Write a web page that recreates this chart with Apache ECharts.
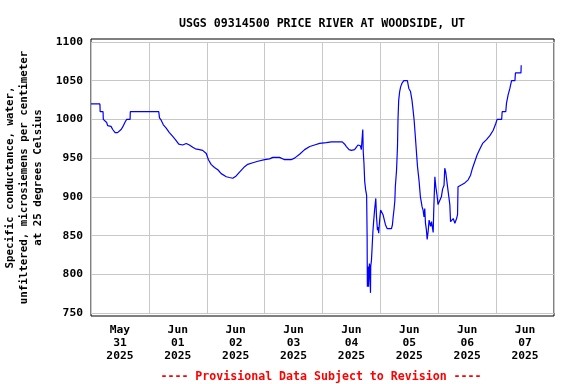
<!DOCTYPE html>
<html>
<head>
<meta charset="utf-8">
<script src="https://cdn.jsdelivr.net/npm/echarts@6/dist/echarts.min.js"></script>
<style>html,body{margin:0;padding:0;background:#fff}#c{width:576px;height:384px}</style>
</head>
<body>
<div id="c"></div>
<script>
// Hours since 2025-05-31 00:00
var hours = [0,3.7,3.8,5.0,5.1,6.5,6.9,8.3,9.0,10.0,11.0,12.5,13.1,14.2,14.8,16.2,16.3,28.1,28.4,29.1,30.0,31.1,32.5,33.9,35.0,36.4,38.0,39.5,40.8,42.2,43.3,45.0,46.3,47.8,48.7,49.8,51.2,52.6,54.0,56.1,57.4,58.8,60.2,61.6,63.7,65.0,67.1,69.2,72.0,74.0,75.4,78.2,80.3,83.0,84.4,86.5,88.6,90.7,92.7,94.8,97.6,99.7,104.2,105.2,105.9,107.0,108.0,109.3,110.0,110.7,111.4,111.7,112.1,112.5,112.7,112.9,113.2,113.5,113.9,114.3,114.5,114.6,114.9,115.1,115.3,115.45,115.6,115.9,116.0,116.3,116.6,116.9,117.2,117.6,117.9,118.1,118.4,118.8,119.0,119.3,119.7,120.1,120.7,121.1,121.5,122.1,122.8,123.6,124.6,125.0,125.3,125.7,126.0,126.2,126.7,127.1,127.3,127.6,128.0,128.4,129.0,129.7,131.2,131.8,132.5,133.1,133.5,134.0,134.5,135.0,135.4,136.0,136.6,137.3,137.7,138.1,138.4,138.7,139.1,139.4,139.8,140.2,140.5,140.8,141.2,141.5,141.9,142.1,142.6,143.0,143.5,143.9,144.6,145.3,145.8,146.4,146.7,147.1,147.7,148.1,148.8,149.1,149.8,150.2,150.9,151.6,152.0,152.2,152.9,153.9,155.0,156.4,157.4,158.2,159.2,160.1,161.3,162.4,164.0,165.4,166.8,167.9,168.4,170.3,170.5,172.0,172.3,173.0,173.7,174.4,175.8,176.0,178.3,178.4];
var conductance = [1020,1020,1010,1010,1000,996,992,991,987,983,983,987,990,997,1000,1000,1010,1010,1002,999,993,989,983,978,974,968,967,969,967,964,962,961,960,956,948,942,938,935,930,926,925,924,927,932,939,942,944,946,948,949,951,951,948,948,950,955,961,965,967,969,970,971,971,968,965,961,960,961,964,967,968,966,961,961,987,958,943,920,909,902,849,784,810,784,782,814,810,776,810,818,836,855,868,883,892,898,874,857,861,853,870,883,885,877,872,864,859,857,859,864,874,885,895,913,934,965,999,1025,1036,1042,1047,1050,1050,1040,1036,1025,1014,999,978,956,939,922,900,887,883,874,885,866,857,845,855,870,866,862,868,866,854,879,926,913,902,890,892,900,910,915,937,932,931,907,890,868,867,872,866,872,877,913,913,916,918,922,928,937,946,954,962,969,974,979,986,995,1000,1000,1010,1010,1021,1032,1040,1050,1050,1060,1060,1070];
var dayLabels = ['May\n31\n2025','Jun\n01\n2025','Jun\n02\n2025','Jun\n03\n2025','Jun\n04\n2025','Jun\n05\n2025','Jun\n06\n2025','Jun\n07\n2025'];
var yTicks = [750,800,850,900,950,1000,1050,1100];
var titleText = 'USGS 09314500 PRICE RIVER AT WOODSIDE, UT';
var yName = 'Specific conductance, water,\nunfiltered, microsiemens per centimeter\nat 25 degrees Celsius';
var footer = '---- Provisional Data Subject to Revision ----';

var FONT = '"DejaVu Sans Mono", monospace';
var data = hours.map(function (h, i) { return [h, conductance[i]]; });
var chart = echarts.init(document.getElementById('c'), null, {renderer: 'canvas'});
chart.setOption({
  animation: false,
  backgroundColor: '#fff',
  title: [
    {text: titleText, left: 317, top: 12, textAlign: 'center',
     textStyle: {fontFamily: FONT, fontWeight: 'bold', fontSize: 11.6, color: '#000', lineHeight: 14}},
    {text: footer, left: 316, top: 365, textAlign: 'center',
     textStyle: {fontFamily: FONT, fontWeight: 'bold', fontSize: 11.6, color: '#ff0000', lineHeight: 14}}
  ],
  grid: [
    {left: 91, right: 22, top: 42, bottom: 71, outerBoundsMode: 'none', containLabel: false},
    {left: 91, right: 22, top: 39, bottom: 68, outerBoundsMode: 'none', containLabel: false,
     show: true, borderColor: '#000', borderWidth: 1, backgroundColor: 'transparent'}
  ],
  xAxis: [
    {type: 'value', gridIndex: 0, min: 0, max: 192, interval: 24,
     axisLine: {show: false}, axisTick: {show: false}, axisLabel: {show: false},
     splitLine: {show: true, lineStyle: {color: '#c8c8c8', width: 1}}},
    {type: 'value', gridIndex: 0, min: 0, max: 192, interval: 12, position: 'bottom',
     axisLine: {show: false}, axisTick: {show: false}, splitLine: {show: false},
     axisLabel: {show: true, margin: 11, fontFamily: FONT, fontWeight: 'bold', fontSize: 11.3,
       color: '#000', lineHeight: 12.7, align: 'center', hideOverlap: false,
       formatter: function (v) { return (v % 24 === 12) ? dayLabels[(v - 12) / 24] : ''; }}},
    {type: 'value', gridIndex: 1, min: 0, max: 192, show: false}
  ],
  yAxis: [
    {type: 'value', gridIndex: 0, min: yTicks[0], max: yTicks[yTicks.length - 1], interval: 50,
     axisLine: {show: false}, axisTick: {show: false},
     axisLabel: {margin: 8, fontFamily: FONT, fontWeight: 'bold', fontSize: 11.3, color: '#000',
       formatter: function (v) { return String(v); }},
     splitLine: {show: true, lineStyle: {color: '#c8c8c8', width: 1}},
     name: yName, nameLocation: 'middle', nameRotate: 90, nameGap: 46,
     nameTextStyle: {fontFamily: FONT, fontWeight: 'bold', fontSize: 10.8, color: '#000', lineHeight: 14, align: 'center'}},
    {type: 'value', gridIndex: 1, min: 0, max: 1, show: false}
  ],
  series: [{
    type: 'line', xAxisIndex: 0, yAxisIndex: 0, data: data, showSymbol: false,
    lineStyle: {color: '#0000ff', width: 1.2}, itemStyle: {color: '#0000ff'}
  }]
});
</script>
</body>
</html>
